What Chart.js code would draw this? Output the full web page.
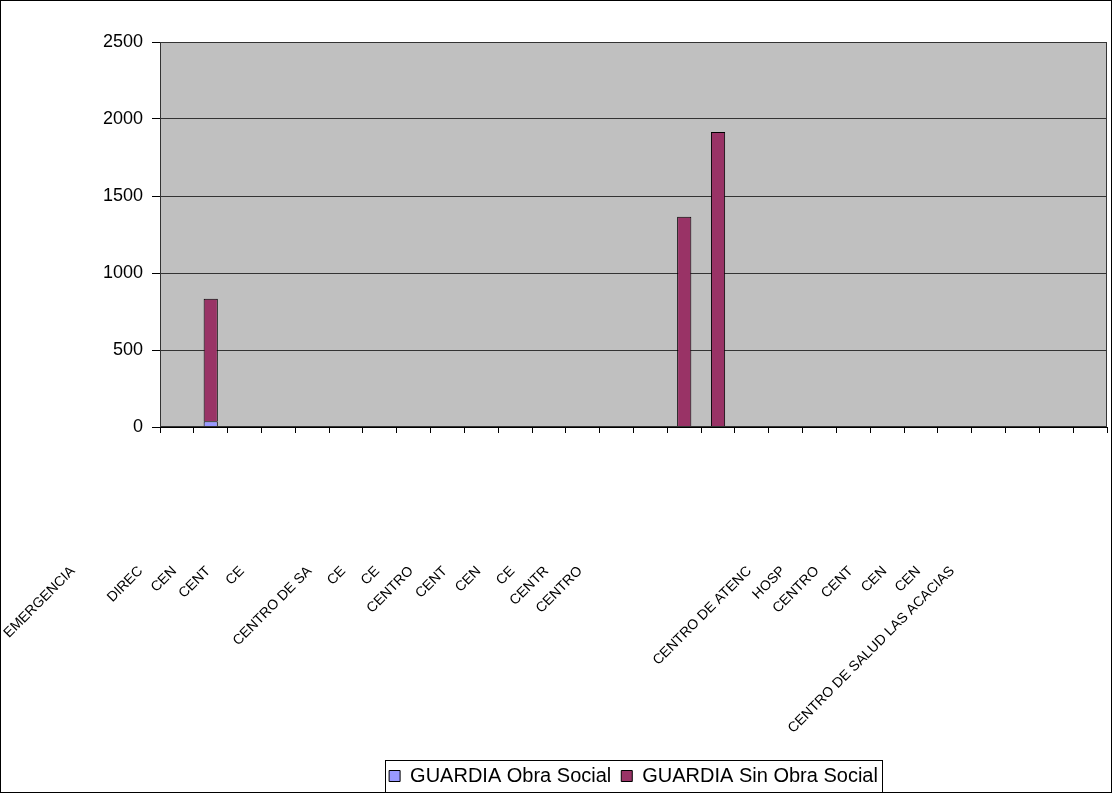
<!DOCTYPE html>
<html><head><meta charset="utf-8">
<script src="https://cdn.jsdelivr.net/npm/chart.js@4.4.0/dist/chart.umd.min.js"></script>
<style>html,body{margin:0;padding:0;background:#fff;}canvas{display:block;}</style>
</head><body>
<canvas id="c" width="1112" height="793"></canvas>
<script>
const categories = ['EMERGENCIA','','DIREC','CEN','CENT','CE','','CENTRO DE SA','CE','CE','CENTRO','CENT','CEN','CE','CENTR','CENTRO','','','','','CENTRO DE ATENC','HOSP','CENTRO','CENT','CEN','CEN','CENTRO DE SALUD LAS ACACIAS',''];
const obraSocial    = [0,38,0,0,0,0,0,0,0,0,0,0,0,0,0,0,0,0,0,0,0,0,0,0,0,0,0,0];
const sinObraSocial = [0,795,0,0,0,0,0,0,0,0,0,0,0,0,0,1365,1915,0,0,0,0,0,0,0,0,0,0,0];
const yTicks = [0,500,1000,1500,2000,2500];
const seriesNames = ['GUARDIA Obra Social','GUARDIA Sin Obra Social'];

const FONT = "'Liberation Sans', Arial, sans-serif";

const frame = {
  id:'frame',
  beforeDraw(chart){
    const {ctx, chartArea:a} = chart;
    ctx.save();
    ctx.fillStyle='#fff'; ctx.fillRect(0,0,chart.width,chart.height);
    ctx.fillStyle='#C0C0C0'; ctx.fillRect(a.left,a.top,a.right-a.left,a.bottom-a.top);
    ctx.restore();
  },
  afterDraw(chart){
    const {ctx, chartArea:a} = chart;
    ctx.save();
    ctx.lineWidth=1;
    ctx.strokeStyle='#333';
    ctx.strokeRect(Math.round(a.left)+0.5, Math.round(a.top)+0.5, Math.round(a.right-a.left)-1, Math.round(a.bottom-a.top)-1);
    const hb = chart.legend.legendHitBoxes;
    if (hb && hb.length){
      let l=Infinity,r=-Infinity,t=Infinity,b=-Infinity;
      hb.forEach(h=>{l=Math.min(l,h.left);r=Math.max(r,h.left+h.width);t=Math.min(t,h.top);b=Math.max(b,h.top+h.height);});
      ctx.strokeStyle='#000';
      ctx.strokeRect(Math.round(l-4)+0.5, Math.round(t-6)+0.5, Math.round(r-l+8), Math.round(b-t+12));
    }
    ctx.strokeStyle='#000';
    ctx.strokeRect(0.5,0.5,chart.width-1,chart.height-1);
    ctx.restore();
  }
};

new Chart(document.getElementById('c'), {
  type:'bar',
  data:{
    labels:categories,
    datasets:[
      {label:seriesNames[0], data:obraSocial, backgroundColor:'#9999FF', borderColor:'#000', borderWidth:1, barPercentage:0.42, categoryPercentage:1},
      {label:seriesNames[1], data:sinObraSocial, backgroundColor:'#993366', borderColor:'#000', borderWidth:1, barPercentage:0.42, categoryPercentage:1}
    ]
  },
  options:{
    responsive:false, animation:false,
    layout:{padding:{top:42,right:5,left:0,bottom:-3}},
    plugins:{
      legend:{position:'bottom', fullSize:false,
        labels:{font:{family:FONT,size:20}, color:'#000', boxWidth:11, boxHeight:11, padding:10}},
      tooltip:{enabled:false}
    },
    scales:{
      x:{stacked:true, offset:true,
        grid:{offset:true, drawOnChartArea:false, drawTicks:true, tickLength:6, tickColor:'#000'},
        border:{color:'#000', width:1},
        ticks:{autoSkip:false, maxRotation:45, minRotation:45, labelOffset:-104, padding:130, font:{family:FONT,size:14}, color:'#000'},
        afterFit(s){ s.height = 329; s.paddingLeft = 0; s.paddingRight = 0; }
      },
      y:{stacked:true, min:0, max:2500,
        afterBuildTicks(s){ s.ticks = yTicks.map(v=>({value:v})); },
        ticks:{font:{family:FONT,size:18}, color:'#000', padding:9, callback:(v)=>String(v)},
        grid:{color:'#333', tickLength:8, tickColor:'#000'},
        border:{color:'#000', width:1},
        afterFit(s){ s.width = 160; }
      }
    }
  },
  plugins:[frame]
});
</script>
</body></html>
